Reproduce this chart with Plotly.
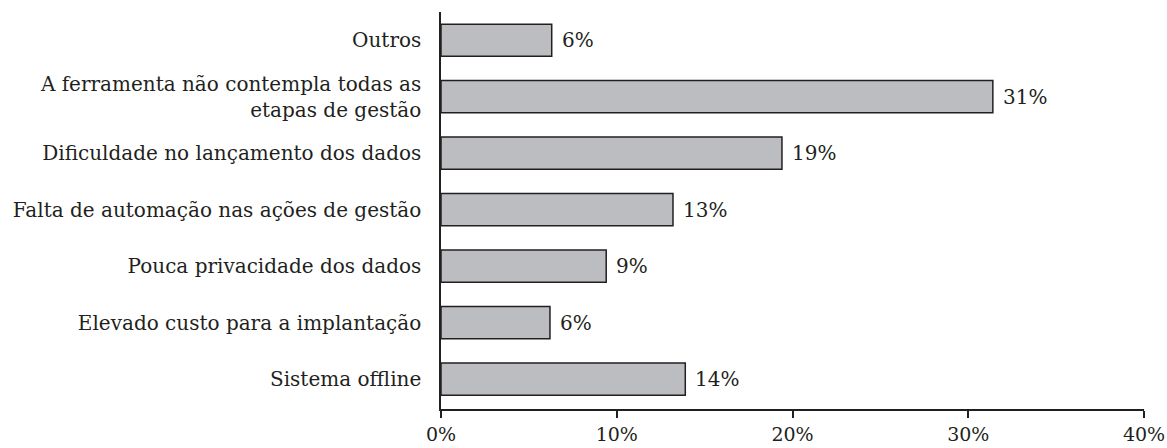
import plotly.graph_objects as go

# Reasons reported, listed bottom to top
categories = [
    "Sistema offline",
    "Elevado custo para a implantação",
    "Pouca privacidade dos dados",
    "Falta de automação nas ações de gestão",
    "Dificuldade no lançamento dos dados",
    "A ferramenta não contempla todas as<br>etapas de gestão",
    "Outros",
]
shares = [13.9, 6.2, 9.4, 13.2, 19.4, 31.4, 6.3]

x_ticks = [0, 10, 20, 30, 40]
x_tick_labels = ["0%", "10%", "20%", "30%", "40%"]

FONT = "DejaVu Serif"
SIZE = 20
INK = "#231f20"

fig = go.Figure(
    go.Bar(
        x=shares,
        y=categories,
        orientation="h",
        width=0.57,
        marker=dict(color="#bcbdc1", line=dict(color=INK, width=1.5)),
        hoverinfo="skip",
    )
)

# Value labels to the right of each bar
for cat, val in zip(categories, shares):
    fig.add_annotation(
        x=val, y=cat, text=f"{val:.0f}%", showarrow=False,
        xanchor="left", yanchor="middle", xshift=8,
        font=dict(family=FONT, size=SIZE, color=INK),
    )

fig.update_layout(
    width=1167, height=448,
    margin=dict(l=441, r=23, t=12, b=39, autoexpand=False),
    paper_bgcolor="white", plot_bgcolor="white",
    showlegend=False,
    font=dict(family=FONT, size=SIZE, color=INK),
)
fig.update_xaxes(
    range=[0, 40], tickvals=x_ticks, ticktext=x_tick_labels,
    showgrid=False, zeroline=False,
    showline=True, linecolor=INK, linewidth=1.5,
    ticks="outside", ticklen=7, tickwidth=1.5, tickcolor=INK,
    tickfont=dict(family=FONT, size=19, color=INK),
)
fig.update_yaxes(
    range=[-0.53, 6.5],
    showgrid=False, zeroline=False,
    showline=True, linecolor=INK, linewidth=1.5,
    ticks="", ticklabelstandoff=14,
    tickfont=dict(family=FONT, size=SIZE, color=INK),
)

fig.write_html("out.html")
